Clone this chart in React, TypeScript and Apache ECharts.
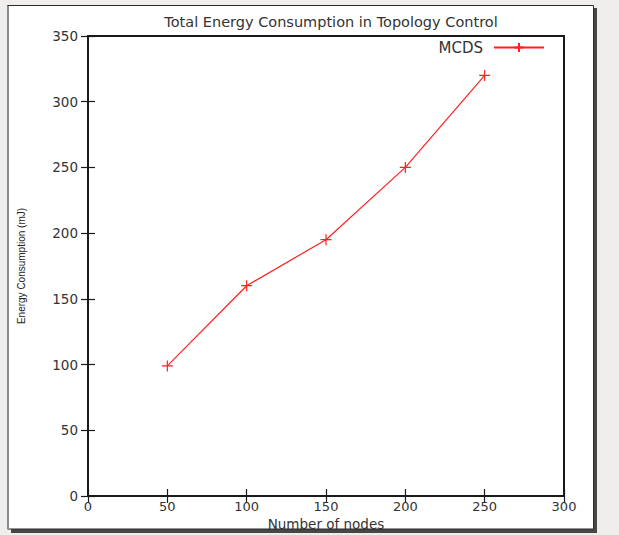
import React, { useEffect, useRef } from "react";
import * as echarts from "echarts";

const nodes = [50, 100, 150, 200, 250];
const energy = [99, 160, 195, 250, 320];
const seriesName = "MCDS";
const titleText = "Total Energy Consumption in Topology Control";
const xName = "Number of nodes";
const yName = "Energy Consumption (mJ)";

const FONT = "DejaVu Sans";
const TEXT = "#333";
const AXIS = "#1a1a1a";
const PLUS = "path://M0,5L10,5M5,0L5,10";

export default function App() {
  const ref = useRef<HTMLDivElement>(null);
  useEffect(() => {
    const chart = echarts.init(ref.current!, null, { renderer: "svg" });
    const axisCommon = {
      type: "value" as const,
      axisLine: { show: false },
      splitLine: { show: false },
      axisTick: { show: true, inside: true, length: 7, lineStyle: { color: AXIS, width: 1.2 } },
    };
    chart.setOption({
      animation: false,
      backgroundColor: "#efeeed",
      graphic: [
        { type: "rect", z: -100, shape: { x: 11, y: 8, width: 586, height: 525 }, style: { fill: "#474747" } },
        { type: "rect", z: -99, shape: { x: 7.5, y: 5.5, width: 586, height: 523.5 }, style: { fill: "#ffffff", stroke: "#2a2a2a", lineWidth: 1 } },
        { type: "line", z: -98, shape: { x1: 8, y1: 6, x2: 8, y2: 529 }, style: { stroke: "#8a8a8a", lineWidth: 2 } },
      ],
      title: {
        text: titleText,
        left: 326,
        textAlign: "center",
        top: 9,
        textStyle: { fontFamily: FONT, fontSize: 14.5, fontWeight: "normal", color: TEXT },
      },
      legend: {
        data: [seriesName],
        right: 74,
        top: 40,
        padding: 0,
        align: "right",
        itemWidth: 50,
        itemHeight: 11,
        textStyle: { fontFamily: FONT, fontSize: 15, color: TEXT, padding: [0, 6, 0, 0] },
      },
      grid: {
        show: true,
        left: 88,
        right: 55,
        top: 36,
        bottom: 39,
        outerBoundsMode: "none",
        containLabel: false,
        borderColor: AXIS,
        borderWidth: 2,
        backgroundColor: "#ffffff",
      },
      xAxis: [
        {
          ...axisCommon,
          position: "bottom",
          min: 0,
          max: 300,
          interval: 50,
          name: xName,
          nameLocation: "middle",
          nameGap: 21,
          nameMoveOverlap: false,
          nameTextStyle: { fontFamily: FONT, fontSize: 13.5, color: TEXT },
          axisLabel: { fontFamily: FONT, fontSize: 13, color: TEXT, margin: 4 },
        },
        {
          ...axisCommon,
          position: "top",
          min: 0,
          max: 300,
          interval: 50,
          axisLabel: { show: false },
        },
      ],
      yAxis: [
        {
          ...axisCommon,
          position: "left",
          min: 0,
          max: 350,
          interval: 50,
          name: yName,
          nameLocation: "middle",
          nameGap: 62,
          nameMoveOverlap: false,
          nameTextStyle: { fontFamily: "Liberation Sans", fontSize: 10, color: "#222" },
          axisLabel: { fontFamily: FONT, fontSize: 13.5, color: TEXT, margin: 10 },
        },
        {
          ...axisCommon,
          position: "right",
          min: 0,
          max: 350,
          interval: 50,
          axisLabel: { show: false },
        },
      ],
      series: [
        {
          name: seriesName,
          type: "line",
          xAxisIndex: 0,
          yAxisIndex: 0,
          data: nodes.map((n, i) => [n, energy[i]]),
          symbol: PLUS,
          symbolSize: 11,
          lineStyle: { color: "#ff2020", width: 1.2 },
          itemStyle: { color: "#ff2020", borderColor: "#ff2020", borderWidth: 1.2 },
        },
      ],
    });
    return () => chart.dispose();
  }, []);
  return (
    <div
      ref={ref}
      style={{ position: "absolute", left: 0, top: 0, width: 619, height: 535 }}
    />
  );
}
